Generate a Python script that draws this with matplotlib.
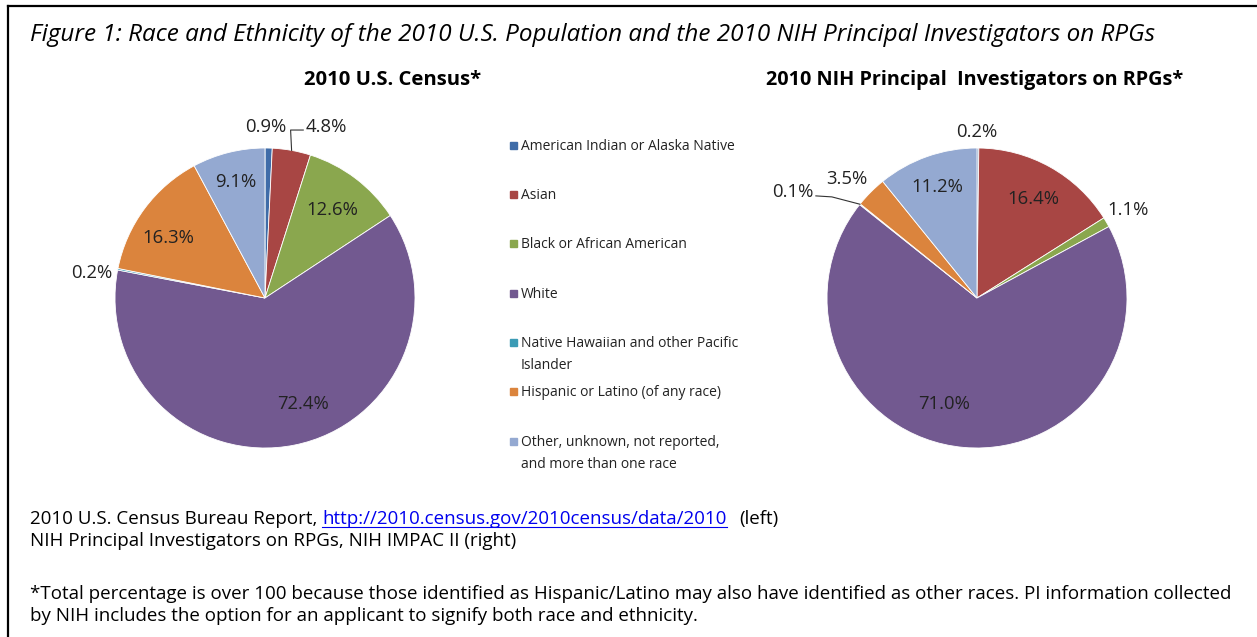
import math
import matplotlib
matplotlib.use("Agg")
import matplotlib.pyplot as plt

plt.rcParams["font.family"] = ["Open Sans", "DejaVu Sans"]

categories = ["American Indian or Alaska Native", "Asian", "Black or African American", "White",
              "Native Hawaiian and other Pacific\nIslander", "Hispanic or Latino (of any race)",
              "Other, unknown, not reported,\nand more than one race"]
census_pct = [0.9, 4.8, 12.6, 72.4, 0.2, 16.3, 9.1]
nih_pct = [0.2, 16.4, 1.1, 71.0, 0.1, 3.5, 11.2]
colors = ["#3F6CA8", "#A84644", "#8AA74E", "#725990", "#3B9BB5", "#DB843D", "#94A9D1"]

# label placement: (radius fraction, angle shift from slice middle in degrees)
census_lbl = [(1.14, 1.1), (1.21, -9.4), (0.74, -0.5), (0.75, 8.7), (1.165, 2.9), (0.76, 4.9), (0.80, 0.2)]
nih_lbl = [(1.107, 0.5), (0.76, -0.3), (1.165, -0.15), (0.74, -12.3), (1.415, 8.7), (1.177, 2.7), (0.787, 0.3)]

W, H = 1257, 637
R = 150
fig = plt.figure(figsize=(W / 100, H / 100), dpi=100)
ax = fig.add_axes([0, 0, 1, 1])
renderer = fig.canvas.get_renderer()


def fix_limits():
    ax.set_xlim(0, W)
    ax.set_ylim(0, H)
    ax.set_aspect("auto")


def draw_pie(cx, cy, values, lbl_pos, title, title_x, title_fs):
    wedges, _ = ax.pie(values, colors=colors, startangle=90, counterclock=False, radius=R,
                       center=(cx, H - cy), wedgeprops=dict(linewidth=0.6, edgecolor="white"))
    fix_limits()
    texts = []
    for w, v, (rf, da) in zip(wedges, values, lbl_pos):
        a = math.radians((w.theta1 + w.theta2) / 2 + da)
        x = cx + rf * R * math.cos(a)
        y = H - cy + rf * R * math.sin(a)
        t = ax.text(x, y, f"{v:.1f}%", ha="center", va="center", fontsize=13.3, color="#222222")
        texts.append(t)
    ax.text(title_x, H - 80, title, ha="center", va="center", fontsize=title_fs, fontweight="bold")
    return wedges, texts


def edge_point(w, cx, cy):
    a = math.radians((w.theta1 + w.theta2) / 2)
    return cx + R * math.cos(a), H - cy + R * math.sin(a)


wl, tl = draw_pie(265, 298, census_pct, census_lbl, "2010 U.S. Census*", 393, 14.6)
wr, tr = draw_pie(977, 298, nih_pct, nih_lbl, "2010 NIH Principal  Investigators on RPGs*", 975, 14.3)

# leader lines
ex, ey = edge_point(wl[1], 265, 298)
bb = tl[1].get_window_extent(renderer)
ly = (bb.y0 + bb.y1) / 2 - 3
ax.plot([ex, ex - 1, bb.x0 - 2], [ey, ly, ly], color="#333333", lw=0.8)
ex, ey = edge_point(wr[4], 977, 298)
bb = tr[4].get_window_extent(renderer)
ly = (bb.y0 + bb.y1) / 2 - 4
ax.plot([ex, bb.x1 + 18, bb.x1 + 2], [ey, ly - 1, ly], color="#333333", lw=0.8)

# legend
leg_y = [145, 194, 243, 293, 342, 391, 441]
for c, lab, y in zip(colors, categories, leg_y):
    ax.add_patch(plt.Rectangle((510, H - y - 4), 7, 7, color=c))
    ax.text(521, H - y + 6, lab, ha="left", va="top", fontsize=10.0, color="#222222", linespacing=1.6)

# titles and notes
ax.text(30, H - 35, "Figure 1: Race and Ethnicity of the 2010 U.S. Population and the 2010 NIH Principal Investigators on RPGs",
        ha="left", va="center", fontsize=17.5, style="italic")
fs = 13.5
t1 = ax.text(30, H - 519, "2010 U.S. Census Bureau Report,", ha="left", va="center", fontsize=fs)
bb = t1.get_window_extent(renderer)
link = ax.text(bb.x1 + 5, H - 519, "http://2010.census.gov/2010census/data/2010", ha="left", va="center",
               fontsize=fs, color="#0000EE")
bl = link.get_window_extent(renderer)
ax.plot([bl.x0, bl.x1], [bl.y0 + 1, bl.y0 + 1], color="#0000EE", lw=0.8)
ax.text(bl.x1 + 12, H - 519, "(left)", ha="left", va="center", fontsize=fs)
ax.text(30, H - 541, "NIH Principal Investigators on RPGs, NIH IMPAC II (right)", ha="left", va="center", fontsize=fs)
ax.text(30, H - 594, "*Total percentage is over 100 because those identified as Hispanic/Latino may also have identified as other races. PI information collected",
        ha="left", va="center", fontsize=fs)
ax.text(30, H - 616, "by NIH includes the option for an applicant to signify both race and ethnicity.",
        ha="left", va="center", fontsize=fs)

# frame
ax.plot([8, 8], [0, H - 6], color="black", lw=1.6)
ax.plot([8, W], [H - 6, H - 6], color="black", lw=1.6)

fix_limits()
ax.axis("off")
fig.savefig("out.png", dpi=100)
